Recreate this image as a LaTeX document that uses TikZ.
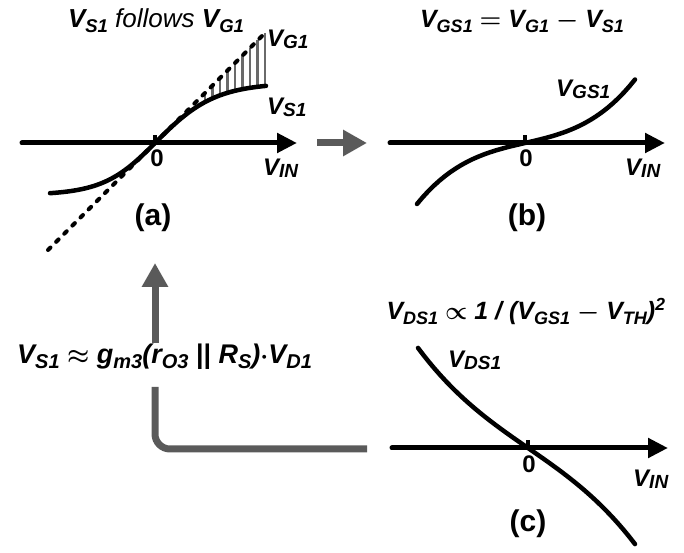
\documentclass[tikz,border=0pt]{standalone}
\usepackage{fontspec}
\setmainfont{Liberation Sans}
\usetikzlibrary{arrows.meta,calc,positioning}
\definecolor{ink}{HTML}{000000}
\definecolor{flowgray}{HTML}{5A5A5A}
\definecolor{hatchgray}{HTML}{6A6A6A}
\def\subsize{18}
\newcommand\lo[1]{\raisebox{-.35ex}{\fontsize{\subsize}{\subsize}\selectfont #1}}
\newcommand\sm[1]{\raisebox{-.1ex}{\fontsize{19}{19}\selectfont #1}}
\tikzset{x=1pt,y=1pt,
  every node/.style={font=\fontsize{25}{28}\selectfont\bfseries\itshape\boldmath,inner sep=0pt},
  lbl/.style={font=\fontsize{24}{26}\selectfont\bfseries\itshape},
  tag/.style={font=\fontsize{30}{32}\selectfont\bfseries},
  zero/.style={font=\fontsize{24}{26}\selectfont\bfseries},
  axis/.style={draw=ink,line width=5pt,line cap=round,-{Triangle[length=20pt,width=19pt]}},
  curve/.style={draw=ink,line width=4.5pt,line cap=round},
  guide/.style={draw=ink,line width=4pt,line cap=round,dash pattern=on 3.5pt off 8pt},
  hatch/.style={draw=hatchgray,line width=2.5pt},
  origintick/.style={draw=ink,line width=4.5pt},
  flowline/.style={draw=flowgray,line width=7pt},
  flow/.style={flowline,-{Triangle[length=24pt,width=25pt]}}}
\begin{document}
\begin{tikzpicture}
\useasboundingbox (0,0) rectangle (684,553);
% (a) source follows gate
\begin{scope}[shift={(155,410)}]
\foreach \u in {50,57.5,...,110}{\draw[hatch] (\u,\u)--(\u,{60*tanh(\u/60)});}
\draw[guide] (-107,-107)--(110,110);
\draw[axis] (-133,0)--(142,0);
\draw[origintick] (0,0)--(0,8);
\draw[curve] plot[domain=-105:0,samples=30] (\x,{52*tanh(\x/52)})
  -- plot[domain=0:111,samples=30] (\x,{60*tanh(\x/60)});
\end{scope}
\node[anchor=base,font=\fontsize{26}{29}\selectfont\bfseries\itshape] (ttla) at (156,525)
  {\def\subsize{18.5}V\lo{S1} {\mdseries follows} V\lo{G1}};
\node[lbl,anchor=base west] (vg1) at (267,506) {V\sm{G1}};
\node[lbl,anchor=base west] (vs1) at (267,438) {V\sm{S1}};
\node[lbl,anchor=base west] (vina) at (263,377) {V\sm{IN}};
\node[zero,anchor=base] (zeroa) at (157,386) {0};
\node[tag,anchor=base] (laba) at (153,327) {(a)};
% (b) gate-source voltage
\begin{scope}[shift={(525,410)}]
\draw[axis] (-135,0)--(140,0);
\draw[origintick] (0,0)--(0,8);
\draw[curve] plot[domain=-108:110,samples=40] (\x,{0.23*\x+28.7*(\x/100)^3});
\end{scope}
\node[anchor=base] (ttlb) at (522,525) {V\lo{GS1} $=$ V\lo{G1} $-$ V\lo{S1}};
\node[lbl,anchor=base west] (vgs1) at (556,456) {V\sm{GS1}};
\node[zero,anchor=base] (zerob) at (526,386) {0};
\node[lbl,anchor=base west] (vinb) at (625,377) {V\sm{IN}};
\node[tag,anchor=base] (labb) at (527,327) {(b)};
% (c) drain-source voltage
\begin{scope}[shift={(528,105)}]
\draw[axis] (-136,0)--(140,0);
\draw[origintick] (0,0)--(0,8);
\draw[curve] plot[domain=-110:107,samples=40] (\x,{-(0.692*\x+18*(\x/100)^3)});
\end{scope}
\node[anchor=base] (ttlc) at (526,233) {V\lo{DS1} $\propto$ 1 / (V\lo{GS1} $-$ V\lo{TH})\textsuperscript{2}};
\node[lbl,anchor=base west] (vds1) at (448,185) {V\sm{DS1}};
\node[zero,anchor=base] (zeroc) at (529,80) {0};
\node[lbl,anchor=base west] (vinc) at (633,66) {V\sm{IN}};
\node[tag,anchor=base] (labc) at (528,21) {(c)};
% feedback formula
\node[anchor=base west,font=\fontsize{27}{30}\selectfont\bfseries\itshape\boldmath] (fml) at (17,189)
  {\def\subsize{20}V\lo{S1} $\approx$ g\lo{m3}(r\lo{O3} \textup{||} R\lo{S})$\cdot$V\lo{D1}};
\coordinate (aout) at (317,410);
\coordinate (bin) at (367,410);
\coordinate (cout) at (367,104);
\coordinate (fbot) at (155,166);
\coordinate (ftop) at (155,210);
\coordinate (ain) at (155,290);
\draw[flow] (aout)--(bin);
\draw[flowline,rounded corners=15pt] (cout)-|(fbot);
\draw[flow] (ftop)--(ain);
\end{tikzpicture}
\end{document}
